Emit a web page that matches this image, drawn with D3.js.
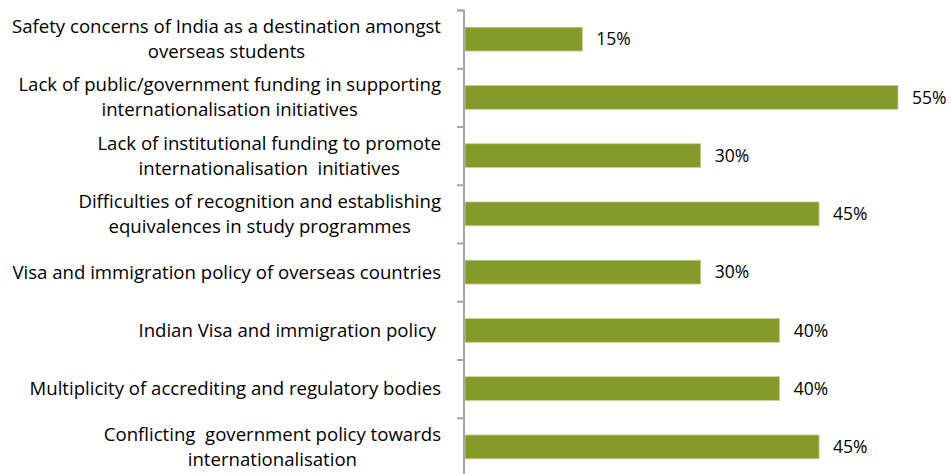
<!DOCTYPE html>
<html>
<head>
<meta charset="utf-8">
<script src="https://cdn.jsdelivr.net/npm/d3@7"></script>
<style>
  body { margin: 0; background: #fff; }
  svg { display: block; font-family: "Open Sans", sans-serif; }
</style>
</head>
<body>
<svg id="chart" width="951" height="474"></svg>
<script>
const categories = [
  ["Safety concerns of India as a destination amongst", "overseas students"],
  ["Lack of public/government funding in supporting", "internationalisation initiatives"],
  ["Lack of institutional funding to promote", "internationalisation  initiatives"],
  ["Difficulties of recognition and establishing", "equivalences in study programmes"],
  ["Visa and immigration policy of overseas countries"],
  ["Indian Visa and immigration policy "],
  ["Multiplicity of accrediting and regulatory bodies"],
  ["Conflicting  government policy towards", "internationalisation"]
];
const values = [15, 55, 30, 45, 30, 40, 40, 45];

const width = 951, height = 474;
const x0 = 464;
const svg = d3.select("#chart");

const y = d3.scaleBand()
  .domain(d3.range(categories.length))
  .range([10, 476])
  .paddingInner(0.59)
  .paddingOuter(0.295);

const x = d3.scaleLinear().domain([0, 55]).range([x0, 898]);

// bars
svg.selectAll("rect.bar")
  .data(values)
  .enter()
  .append("rect")
  .attr("class", "bar")
  .attr("x", x(0) + 1)
  .attr("y", (d, i) => y(i))
  .attr("width", (d) => x(d) - x(0) - 1)
  .attr("height", y.bandwidth())
  .attr("fill", "#869a29")
  .attr("stroke", "#c6d59c")
  .attr("stroke-width", 0.8);

// value labels
svg.selectAll("text.val")
  .data(values)
  .enter()
  .append("text")
  .attr("class", "val")
  .attr("x", (d) => x(d) + 14)
  .attr("y", (d, i) => y(i) + y.bandwidth() / 2)
  .attr("dy", "0.35em")
  .style("font-size", "17.5px")
  .attr("fill", "#000")
  .text((d) => d + "%");

// axis with ticks between categories
const axisScale = d3.scaleLinear().domain([0, categories.length]).range([10, 476]);
const yAxis = d3.axisLeft(axisScale).ticks(categories.length).tickSize(7).tickFormat("");
const g = svg.append("g")
  .attr("transform", `translate(${x0},0)`)
  .call(yAxis);
g.select(".domain").attr("stroke", "#a6a6a6").attr("stroke-width", 2).attr("d", "M-7,10.5H0V476");
g.selectAll(".tick line").attr("stroke", "#a6a6a6").attr("stroke-width", 2);

// category labels
const labelRight = 441;
const lineH = 25;
categories.forEach((lines, i) => {
  const cy = y(i) + y.bandwidth() / 2;
  const t = svg.append("text")
    .attr("text-anchor", "middle")
    .style("font-size", "18.6px")
    .attr("fill", "#000")
    .attr("xml:space", "preserve");
  lines.forEach((line, j) => {
    t.append("tspan")
      .attr("y", cy + (j - (lines.length - 1) / 2) * lineH)
      .attr("dy", "0.35em")
      .text(line);
  });
  let maxW = 0;
  t.selectAll("tspan").each(function () {
    maxW = Math.max(maxW, this.getComputedTextLength());
  });
  t.selectAll("tspan").attr("x", labelRight - maxW / 2);
});
</script>
</body>
</html>
